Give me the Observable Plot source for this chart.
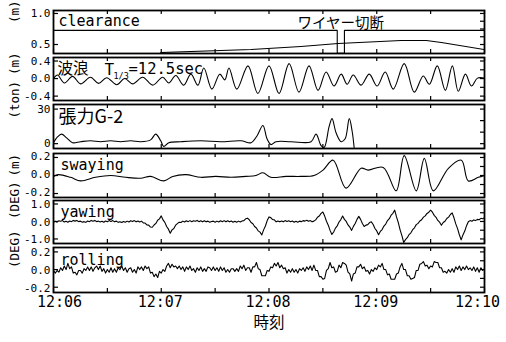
<!DOCTYPE html>
<html><head><meta charset="utf-8">
<script src="https://cdn.jsdelivr.net/npm/d3@7"></script>
<script src="https://cdn.jsdelivr.net/npm/@observablehq/plot@0.6"></script>
<style>
body{margin:0;background:#fff;}
#chart{position:relative;width:506px;height:342px;background:#fff;overflow:hidden}
#chart svg{position:absolute;left:0;overflow:visible}
</style></head><body><div id="chart"></div>
<script>
// time axis: seconds after 12:06:00
const timeTicks = [0, 60, 120, 180, 240];
const timeLabels = ["12:06", "12:07", "12:08", "12:09", "12:10"];
const minorTimeTicks = [0, 30, 60, 90, 120, 150, 180, 210, 240];

// clearance (m)
const clearLevelT = [0, 158, 158, 162, 162, 240];
const clearLevelV = [0.727, 0.727, 0.36, 0.36, 0.727, 0.727];
const clearT = [59.7, 110, 137.8, 158.5, 193.6, 207.6, 216, 240];
const clearV = [0.371, 0.419, 0.468, 0.516, 0.565, 0.565, 0.532, 0.419];
const wireCut = [158, 162];
const wireCutLabel = "ワイヤー切断";

// wave (m)
const waveT = [0,2.2,6.1,10.6,15.1,20.6,25.1,29.6,35.2,39.6,44.1,49.7,55.2,60.8,64.2,68.1,72.5,76.5,80.4,83.7,88.2,92.6,95.4,97.7,102.1,108.3,113.8,120,125.6,131.2,136.7,142.3,147.3,151.8,156.2,160.2,163.5,166.9,171.3,175.8,180.2,184.7,189.2,195.3,200.9,205.9,209.3,213.7,218.2,222.1,225.4,229.4,232.7,236.1,240];
const waveV = [-0.01,0.08,-0.10,0.05,-0.12,0.03,-0.11,0.02,-0.14,0.0,-0.12,0.03,-0.15,0.03,-0.10,0.07,-0.15,0.10,-0.15,0.24,-0.24,0.10,-0.03,0.24,-0.24,0.29,-0.34,0.29,-0.34,0.34,-0.31,0.29,-0.27,0.15,-0.17,0.10,-0.13,0.08,-0.15,0.10,-0.17,0.15,-0.24,0.34,-0.31,0.06,-0.13,0.29,-0.27,0.29,-0.29,0.10,-0.17,0.01,0.01];

// tension G-2 (ton)
const tensT = [0,2.2,4.5,7.3,10.6,15.1,20.6,26.2,31.8,37.4,43,48.5,54.1,56.9,59.7,61.4,64.2,70.9,82,93.2,104.4,110,113.3,116.6,118.9,121.1,123.9,132.3,143.4,146.2,149,150.7,153.5,155.1,157.4,160.2,162.4,164.7,166.3,167.4];
const tensV = [0.8,5.8,8.3,5,0.8,1.7,2.5,1.7,2.5,1.7,2.5,1.7,3.3,8.3,2.5,-2.5,0.8,1.7,2.5,1.7,2.5,0.8,6.7,15.8,4.2,-0.8,1.7,1.7,1.7,8.3,-1.7,-3.3,15,21.7,9.2,1.7,4.2,21.7,10.8,-3.3];

// swaying (m)
const swayT = [0,2.8,9.5,15.1,23.4,31.8,40.2,48.5,54.1,61.4,66.4,73.7,82,90.4,98.8,107.1,112.7,116.6,121,129.5,137.8,145.1,150.1,155.7,162.9,171.3,175.2,183.6,190.8,195.3,202,206.5,211.5,219.9,227.1,231,236.6,240];
const swayV = [-0.01,0.01,-0.02,-0.06,-0.02,0,-0.02,-0.03,-0.01,-0.06,-0.01,0.01,-0.02,-0.01,-0.02,-0.01,0,0.03,-0.02,-0.01,-0.01,0,0.06,0.17,-0.14,0.08,0.06,0.09,-0.17,0.22,-0.17,0.19,-0.17,0.08,0.17,-0.06,-0.02,0];

// yawing (deg), one sample per second from 12:06:00
const yawV = [
-0.05,0.01,-0.04,0.04,0.01,0.05,-0.03,0.01,-0.04,0.03,
-0.01,0.06,0.02,0.06,-0.01,0.02,-0.04,-0.01,-0.05,0.03,
-0.01,0.06,0.01,0.06,-0.01,0.02,-0.03,0.01,-0.04,0.03,
-0.01,0.05,0.00,0.05,-0.02,0.02,-0.05,-0.01,-0.06,0.00,
-0.04,0.02,-0.03,0.04,0.00,0.05,-0.02,0.03,-0.03,0.02,
-0.08,-0.09,-0.20,-0.21,-0.32,-0.33,-0.20,-0.11,0.07,0.15,
0.32,0.09,-0.05,-0.29,-0.44,-0.67,-0.48,-0.40,-0.21,-0.12,
-0.04,-0.06,0.02,-0.03,0.04,-0.01,0.05,-0.01,0.04,0.01,
0.06,-0.01,0.04,-0.02,0.04,-0.02,0.02,-0.04,0.00,0.02,
-0.04,0.02,-0.03,0.04,-0.01,0.05,-0.02,0.04,-0.02,0.03,
-0.04,0.01,-0.04,0.02,-0.03,0.03,0.05,0.15,0.19,0.10,
-0.06,-0.13,-0.29,-0.37,-0.54,-0.61,-0.77,-0.48,-0.26,0.05,
0.26,0.22,0.11,0.09,-0.02,0.03,-0.02,0.03,-0.02,0.05,
0.00,0.04,-0.01,0.03,-0.04,0.01,-0.04,0.02,-0.01,0.05,
0.02,0.07,0.01,0.05,-0.02,0.02,0.09,0.24,0.31,0.46,
0.54,0.31,0.01,-0.21,-0.51,-0.74,-0.60,-0.38,-0.25,-0.03,
0.11,0.31,0.12,0.00,-0.20,-0.32,-0.51,-0.28,-0.12,0.12,
0.29,0.12,-0.12,-0.29,-0.21,-0.18,-0.06,-0.02,-0.17,-0.40,
-0.54,-0.76,-0.57,-0.46,-0.26,-0.15,0.05,0.16,0.36,0.47,
0.65,0.26,-0.07,-0.48,-0.81,-1.20,-1.04,-0.93,-0.75,-0.65,
-0.47,-0.36,-0.18,-0.11,0.03,0.10,0.25,0.32,0.46,0.53,
0.65,0.53,0.35,0.24,0.06,-0.04,-0.22,-0.06,0.01,0.17,
0.25,0.40,0.49,0.21,-0.14,-0.41,-0.76,-1.05,-0.77,-0.55,
-0.24,-0.02,0.05,0.01,0.09,0.05,0.12,0.10,0.18,0.16,0.21];

// rolling (deg), one sample per second from 12:06:00
const rollV = [
-0.01,-0.04,-0.01,-0.03,0.02,-0.01,0.04,0.00,0.07,0.01,
0.03,-0.04,-0.03,-0.06,-0.01,-0.01,-0.04,0.01,-0.01,0.03,
-0.01,0.03,-0.02,0.02,0.04,0.00,0.04,-0.02,0.01,-0.04,
0.00,-0.03,0.02,-0.03,0.01,-0.03,0.02,0.00,0.04,-0.01,
0.02,-0.03,0.01,0.02,-0.03,0.00,-0.04,0.03,0.00,0.03,
-0.01,0.04,0.01,0.03,-0.04,-0.03,-0.08,-0.05,-0.09,-0.02,
-0.04,0.00,-0.02,0.04,0.07,0.02,0.06,0.03,0.04,0.01,
0.04,0.00,0.03,-0.02,0.03,0.00,0.04,-0.01,0.01,-0.03,
0.02,-0.01,0.03,-0.02,0.01,-0.02,0.03,0.02,-0.01,0.03,
-0.01,0.02,-0.02,0.03,-0.01,0.02,-0.03,0.00,-0.03,0.01,
0.01,-0.02,0.01,-0.02,0.04,0.01,0.05,-0.01,0.02,0.02,
-0.03,0.03,0.03,0.08,0.01,0.00,-0.07,-0.07,-0.07,-0.01,
-0.02,0.03,0.02,0.07,0.04,0.08,0.02,0.05,0.01,0.02,
-0.04,0.00,-0.03,0.01,-0.03,0.00,-0.04,0.01,-0.01,0.02,
-0.02,0.03,0.00,0.04,-0.01,0.05,-0.01,-0.01,-0.08,-0.08,
-0.11,-0.10,-0.01,0.01,0.08,0.02,0.03,-0.03,-0.02,0.05,
0.02,0.08,0.07,0.05,-0.03,-0.05,-0.13,-0.05,-0.04,0.03,
0.03,0.06,0.01,0.03,-0.02,-0.01,-0.05,0.00,-0.02,0.02,
0.00,0.05,0.03,0.07,0.00,0.00,-0.06,-0.05,-0.11,-0.11,
-0.11,-0.05,-0.04,0.03,0.07,0.00,0.00,-0.07,-0.07,-0.11,
-0.10,-0.09,-0.01,-0.01,0.06,0.07,0.09,0.04,0.05,0.01,
0.04,0.03,0.09,0.08,0.08,0.02,0.02,-0.03,-0.02,-0.04,
0.00,-0.03,0.01,-0.03,0.03,0.00,0.04,-0.01,0.03,0.00,
0.04,0.00,0.02,-0.01,0.03,-0.02,0.02,-0.03,0.02,-0.01,0.01];

// panel axis ticks & labels
const p1Ticks = [0.5, 1.0], p1Labels = ["0.5", "1.0"], p1Minor = [0.5, 0.625, 0.75, 0.875, 1.0];
const p2Ticks = [0.4, 0, -0.4], p2Labels = ["0.4", "0.0", "-0.4"], p2Minor = [-0.4, -0.2, 0, 0.2, 0.4];
const p3Ticks = [30, 0], p3Labels = ["30", "0"], p3Minor = [0, 10, 20, 30];
const p4Ticks = [0.2, 0, -0.2], p4Labels = ["0.2", "0.0", "-0.2"], p4Minor = [-0.2, -0.1, 0, 0.1, 0.2];
const p5Ticks = [1, 0, -1], p5Labels = ["1.0", "0.0", "-1.0"], p5Minor = [-1, -0.5, 0, 0.5, 1];
const p6Ticks = [0.2, 0, -0.2], p6Labels = ["0.2", "0.0", "-0.2"], p6Minor = [-0.2, -0.1, 0, 0.1, 0.2];

const titles = ["clearance", "張力G-2", "swaying", "yawing", "rolling"];
const waveTitle = ["波浪", "T", "1/3", "=12.5sec"];
const units = ["(m)", "(m)", "(ton)", "(m)", "(DEG)", "(DEG)"];
const xTitle = "時刻";

const MONO = "'DejaVu Sans Mono', 'Liberation Mono', monospace";
const JP = "'Noto Sans CJK JP', sans-serif";
const W = 506, ML = 53, MR = 22;
const chart = document.getElementById("chart");
const zip = (a, b) => a.map((v, i) => ({t: v, v: b[i]}));
const series = (vals) => vals.map((v, i) => ({t: i, v}));

function panel(o) {
  const m = 2, extra = o.extraBottom || 0;
  const ph = o.bottom - o.top, pw = W - ML - MR;
  const lab = o.ticks.map((v, i) => ({v, s: o.labels[i]}));
  const svg = Plot.plot({
    width: W, height: ph + 2 * m + extra,
    marginLeft: ML, marginRight: MR, marginTop: m, marginBottom: m + extra,
    x: {domain: [0, 240], axis: null},
    y: {domain: o.yDomain, axis: null},
    style: {background: "transparent", overflow: "visible", color: "#000"},
    marks: [
      ...o.marks,
      Plot.tickY(o.ticks, {y: d => d, insetRight: pw - 5, stroke: "#000", strokeWidth: 1.2}),
      Plot.tickY(o.minor, {y: d => d, insetLeft: pw - 4, stroke: "#000", strokeWidth: 1.2}),
      Plot.tickX(minorTimeTicks, {x: d => d, insetBottom: ph - 4, stroke: "#000", strokeWidth: 1.2}),
      Plot.tickX(minorTimeTicks, {x: d => d, insetTop: ph - 4, stroke: "#000", strokeWidth: 1.2}),
      Plot.frame({stroke: "#000", strokeWidth: 1.8}),
      Plot.text(lab, {y: "v", text: "s", frameAnchor: "left", textAnchor: "end", dx: -3, dy: o.labelDy || 0, fontSize: 11, fontFamily: MONO, fill: "#000"}),
      Plot.text([o.unit], {frameAnchor: "left", dx: -39, dy: o.unitDy, rotate: -90, fontSize: 12.5, fontFamily: MONO, fill: "#000"}),
      ...(o.title ? [Plot.text([o.title], {frameAnchor: "top-left", textAnchor: "start", lineAnchor: "middle", dx: o.titleDx || 5, dy: o.titleDy, fontSize: o.titleSize || 15, fontFamily: o.titleFont || MONO, fill: "#000", letterSpacing: o.titleLS})] : []),
      ...(o.after || [])
    ]
  });
  svg.style.top = (o.top - m) + "px";
  chart.appendChild(svg);
}

const lineOpts = {x: "t", y: "v", stroke: "#000", strokeWidth: 1.1, clip: true};

panel({top: 10, bottom: 53, yDomain: [0.355, 1.048], ticks: p1Ticks, labels: p1Labels, minor: p1Minor,
  unit: units[0], unitDy: -9, title: titles[0], titleDy: 11,
  marks: [
    Plot.line(zip(clearLevelT, clearLevelV), {...lineOpts, curve: "linear"}),
    Plot.line(zip(clearT, clearV), {...lineOpts, curve: "linear"}),
    Plot.text([{t: (wireCut[0] + wireCut[1]) / 2, s: wireCutLabel}], {x: "t", text: "s", frameAnchor: "top", dy: 7, fontSize: 14.5, fontFamily: JP, fill: "#000"})
  ]});

panel({top: 57, bottom: 100, yDomain: [-0.5, 0.48], ticks: p2Ticks, labels: p2Labels, minor: p2Minor,
  unit: units[1], unitDy: -4,
  marks: [Plot.line(zip(waveT, waveV), {...lineOpts, curve: "catmull-rom"})],
  after: [
    Plot.text([waveTitle[0]], {frameAnchor: "top-left", textAnchor: "start", lineAnchor: "middle", dx: 4, dy: 12, fontSize: 15.5, fontFamily: JP, fill: "#000"}),
    Plot.text([waveTitle[1]], {frameAnchor: "top-left", textAnchor: "start", lineAnchor: "middle", dx: 51, dy: 12, fontSize: 16, fontFamily: MONO, fill: "#000"}),
    Plot.text([waveTitle[2]], {frameAnchor: "top-left", textAnchor: "start", lineAnchor: "middle", dx: 60, dy: 19, fontSize: 8.5, fontFamily: MONO, fill: "#000"}),
    Plot.text([waveTitle[3]], {frameAnchor: "top-left", textAnchor: "start", lineAnchor: "middle", dx: 75, dy: 12, fontSize: 15.5, fontFamily: MONO, fill: "#000"})
  ]});

panel({top: 104, bottom: 148, yDomain: [-4.2, 34], ticks: p3Ticks, labels: p3Labels, minor: p3Minor,
  unit: units[2], unitDy: -8, title: titles[1], titleDy: 13, titleSize: 18, titleFont: JP, titleLS: 1.5,
  marks: [Plot.line(zip(tensT, tensV), {...lineOpts, curve: "catmull-rom"})]});

panel({top: 153, bottom: 197, yDomain: [-0.244, 0.244], ticks: p4Ticks, labels: p4Labels, minor: p4Minor,
  unit: units[3], unitDy: 1, title: titles[2], titleDy: 12, titleDx: 7, labelDy: -1,
  marks: [Plot.line(zip(swayT, swayV), {...lineOpts, curve: "catmull-rom"})]});

panel({top: 200, bottom: 243, yDomain: [-1.26, 1.2], ticks: p5Ticks, labels: p5Labels, minor: p5Minor,
  unit: units[4], unitDy: -3, title: titles[3], titleDy: 12, titleDx: 7, labelDy: 0.5,
  marks: [Plot.line(series(yawV), {...lineOpts, curve: "linear"})]});

const xLab = timeTicks.map((t, i) => ({t, s: timeLabels[i]}));
const xTextOpts = {x: "t", text: "s", frameAnchor: "bottom", dy: 14, fontSize: 15, fontFamily: MONO, fill: "#000"};
panel({top: 247, bottom: 292, yDomain: [-0.26, 0.25], ticks: p6Ticks, labels: p6Labels, minor: p6Minor,
  unit: units[5], unitDy: -2, title: titles[4], titleDy: 13, titleDx: 7, labelDy: 1,
  extraBottom: 46,
  marks: [Plot.line(series(rollV), {...lineOpts, curve: "linear"})],
  after: [
    Plot.text(xLab.slice(0, 1), {...xTextOpts, dx: 6}),
    Plot.text(xLab.slice(1, 4), {...xTextOpts, dx: -1}),
    Plot.text(xLab.slice(4), {...xTextOpts, dx: -7}),
    Plot.text([{t: 120, s: xTitle}], {x: "t", text: "s", frameAnchor: "bottom", dy: 35, fontSize: 15.5, fontFamily: JP, fill: "#000"})
  ]});
</script></body></html>
